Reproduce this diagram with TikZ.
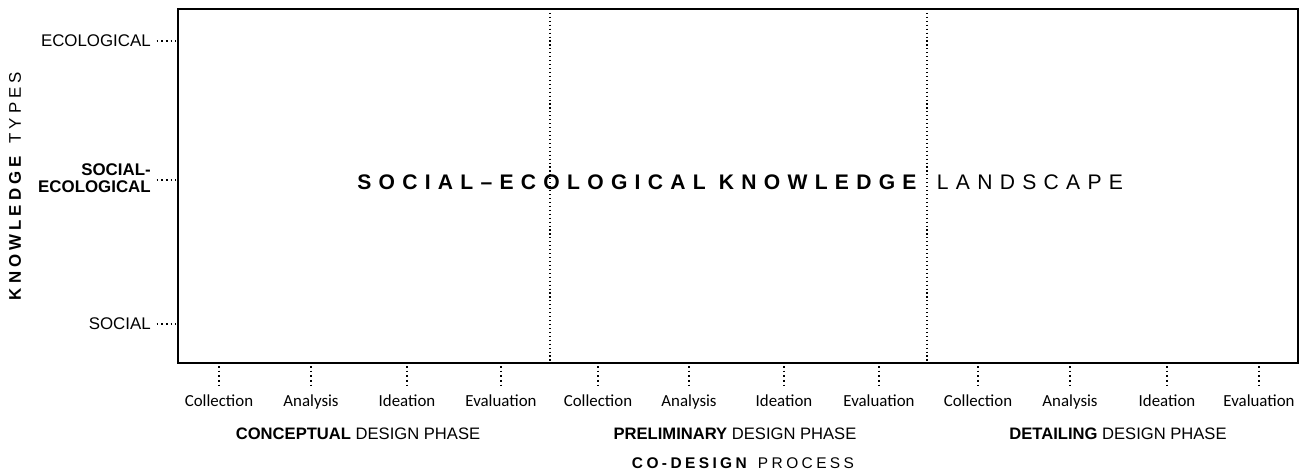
\documentclass[tikz,border=0pt]{standalone}
\usepackage{fontspec}
\setmainfont{Liberation Sans}
\newfontfamily\stepfont{Carlito}
\usepackage{tikz}

\tikzset{
    frame/.style={line width=1.6pt},
    divider/.style={dotted, line width=0.8pt},
    tickline/.style={dotted, line width=1.3pt},
    type label/.style={font=\fontsize{12}{12.5}\selectfont, anchor=east, align=right, inner sep=0pt},
    step label/.style={font=\stepfont\fontsize{12}{14}\selectfont, inner sep=0pt, anchor=base},
    phase label/.style={font=\fontsize{11.8}{14}\selectfont, inner sep=0pt},
}

\begin{document}
\begin{tikzpicture}[x=0.025cm, y=-0.025cm]
    \useasboundingbox (0,0) rectangle (1309,473);

    % Draw frame and phase borders
    \draw[frame] (178,9) rectangle (1298,363);
    \draw[divider] (550,9) -- (550,363);
    \draw[divider] (927,9) -- (927,363);

    % knowledge types on the left
    \node[rotate=90, font=\fontsize{12}{14}\selectfont] (types) at (15,186)
        {\addfontfeature{LetterSpace=24}\textbf{KNOWLEDGE} TYPES};

    \node[type label] (eco) at (151,41) {ECOLOGICAL};
    \node[type label, font=\bfseries\fontsize{12}{12.5}\selectfont] (soceco) at (151,178) {SOCIAL-\\ECOLOGICAL};
    \node[type label] (soc) at (151,324) {SOCIAL};

    \coordinate (ecoend) at (176,41);
    \coordinate (socecoend) at (176,180);
    \coordinate (socend) at (176,324);
    \draw[tickline] ([xshift=4pt]eco.east) -- (ecoend);
    \draw[tickline] ([xshift=4pt]soceco.east |- socecoend) -- (socecoend);
    \draw[tickline] ([xshift=4pt]soc.east) -- (socend);

    % landscape title
    \node[anchor=west, inner sep=0pt, font=\fontsize{15}{17}\selectfont] (landscape) at (357,182)
        {\addfontfeature{LetterSpace=34.5}\textbf{SOCIAL–ECOLOGICAL KNOWLEDGE} LANDSCAPE};

    % design steps below the frame
    \foreach \x/\t [count=\i] in {219/Collection, 311/Analysis, 407/Ideation, 501/Evaluation,
                                  598/Collection, 689/Analysis, 784/Ideation, 879/Evaluation,
                                  978/Collection, 1070/Analysis, 1167/Ideation, 1259/Evaluation} {
        \coordinate (top\i) at (\x,366);
        \coordinate (bot\i) at (\x,385);
        \node[step label] (step\i) at (\x,406) {\t};
        \draw[tickline] (top\i) -- (bot\i);
    }

    % phases
    \node[phase label] (concept) at (358,434) {\textbf{CONCEPTUAL} DESIGN PHASE};
    \node[phase label] (prelim) at (735,434) {\textbf{PRELIMINARY} DESIGN PHASE};
    \node[phase label] (detail) at (1118,434) {\textbf{DETAILING} DESIGN PHASE};

    \node[phase label, font=\fontsize{11}{13}\selectfont] (process) at (743,463)
        {\addfontfeature{LetterSpace=22}\textbf{CO-DESIGN} PROCESS};
\end{tikzpicture}
\end{document}
